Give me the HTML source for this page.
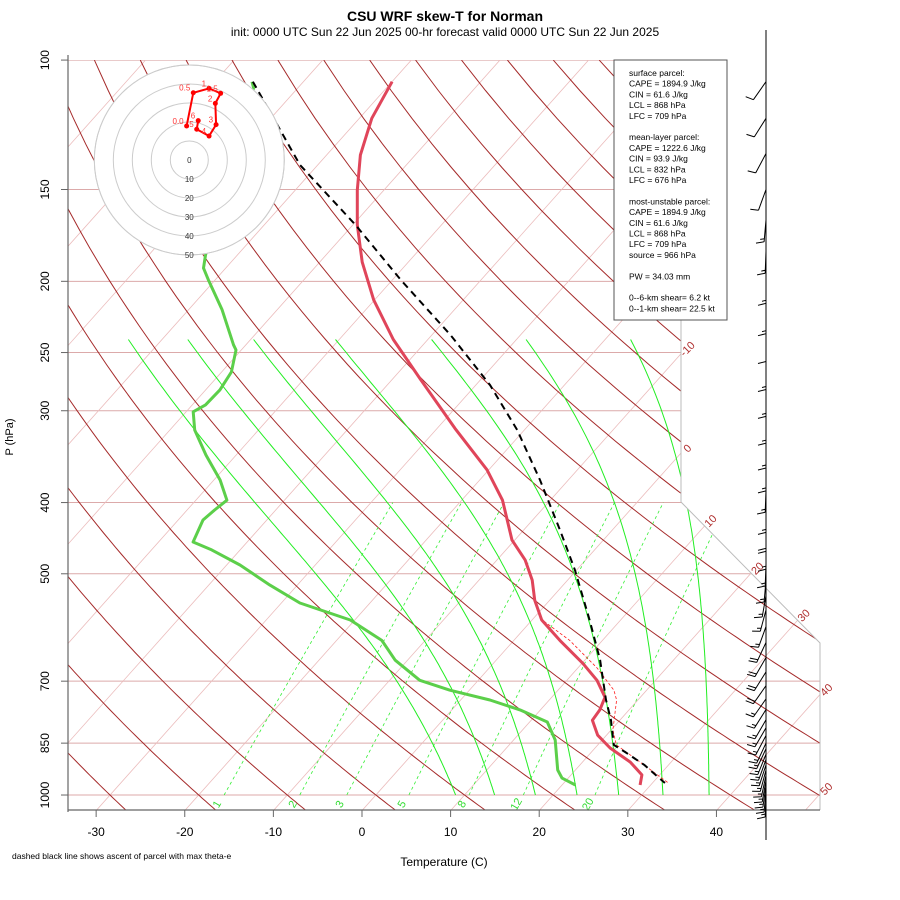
<!DOCTYPE html>
<html><head><meta charset="utf-8"><style>
html,body{margin:0;padding:0;background:#fff;}
svg{display:block;font-family:"Liberation Sans",sans-serif;}
</style></head><body>
<svg id="chart" width="900" height="900" viewBox="0 0 900 900" xmlns="http://www.w3.org/2000/svg">
<defs><clipPath id="plotclip"><polygon points="68,60 681,60 681,502 820,643 820,810 68,810"/></clipPath></defs>
<text x="445" y="21" text-anchor="middle" font-size="14" font-weight="bold">CSU WRF skew-T for Norman</text>
<text x="445" y="36" text-anchor="middle" font-size="12">init: 0000 UTC Sun 22 Jun 2025    00-hr forecast valid 0000 UTC Sun 22 Jun 2025</text>
<g id="bg" clip-path="url(#plotclip)"></g>
<g id="axes"></g>
<g id="prof"></g>
<g id="hodo"></g>
<g id="barbs"></g>
<g id="legend"></g>
<text x="444" y="866" text-anchor="middle" font-size="12">Temperature (C)</text>
<text transform="translate(13,437) rotate(-90)" text-anchor="middle" font-size="11">P (hPa)</text>
<text x="12" y="859" font-size="8.5">dashed black line shows ascent of parcel with max theta-e</text>
</svg>
<script>
// ---- data ----
const tempP = [107,120,134.6,150.3,167.6,188.3,212,240,272,317,361,397,450,479,510,543,578,616,662,698,736,766,791,829,863,902,939,969];
const tempT = [-70.0,-68.6,-66.2,-63.0,-59.5,-55.2,-50.1,-43.9,-36.8,-28.0,-20.2,-15.4,-10.3,-6.8,-4.0,-1.7,1.1,5.2,10.1,13.4,16.0,16.7,16.9,19.0,21.7,25.4,28.0,28.8];
const dewP = [107,109.1,184.2,191.9,199,218.7,244,248,265.7,281,294.6,301,318.7,344.7,372.7,397,409.4,422.5,452.6,464,486.4,518,548,578,616,655.4,698,720,742.6,766,795.6,841.8,924.7,948.3,969];
const dewT = [-85.8,-85.0,-73.6,-72.5,-70.8,-66.2,-61.4,-60.6,-58.9,-58.4,-58.5,-59.2,-57.2,-53.4,-49.3,-46.5,-46.9,-47.2,-46.1,-43.2,-38.5,-33.1,-27.9,-20.5,-14.9,-11.4,-6.6,-2.2,3.3,7.7,12.0,14.7,18.0,19.3,21.5];
const parcelP = [107,138.9,167.6,199,236.6,276.8,318.7,372.7,436,494,578,655,742.6,791,854.7,874,910.5,963];
const parcelT = [-85.7,-72.0,-59.7,-49.1,-37.9,-28.4,-20.8,-13.2,-5.9,-0.2,6.5,11.7,16.4,19.0,21.8,23.8,27.3,31.4];
const vparP = [574.6,616,672,720,742.6,815.8,854.7,902,963];
const vparT = [0.7,6.3,12.2,16.3,17.6,20.2,22.1,26.5,31.8];
const hodoU = [-1.4,2.1,10.4,16.5,13.7,14.1,10.4,3.9,4.7];
const hodoV = [17.9,35.4,37.7,35.1,29.8,18.6,12.6,16.2,20.7];
const hodoLab = ['0.0','0.5','1','1.5','2','3','4','5','6'];
const windP = [107,120,134,150,165,182,200,220,240,262,285,310,335,360,385,410,435,460,485,510,535,560,590,620,650,680,710,740,765,790,810,830,850,865,880,895,910,925,940,955,970,985,1000];
const windDir = [215,212,208,200,185,182,180,180,180,180,180,180,180,180,182,180,180,180,182,185,190,195,200,205,210,212,215,215,212,210,210,208,205,205,202,200,198,195,192,190,188,185,182];
const windSpd = [10,10,10,10,15,15,15,15,10,15,15,15,15,15,15,15,20,15,15,15,15,15,15,20,20,20,20,15,15,15,15,15,15,15,15,15,15,15,15,15,15,15,15];
const pLevels = [100,150,200,250,300,400,500,700,850,1000];
const tTicks = [-30,-20,-10,0,10,20,30,40];
const mixRatios = [1,2,3,5,8,12,20];
const moistStart = [9.0,13.4,18.0,22.7,27.4,32.4,37.6];
const moistK = [0.87,0.85,0.80,0.77,0.745,0.68,0.63];
const isoLabels = [-10,0,10,20,30,40,50];
const legendLines = ['surface parcel:','CAPE = 1894.9 J/kg','CIN = 61.6 J/kg','LCL = 868 hPa','LFC = 709 hPa','','mean-layer parcel:','CAPE = 1222.6 J/kg','CIN = 93.9 J/kg','LCL = 832 hPa','LFC = 676 hPa','','most-unstable parcel:','CAPE = 1894.9 J/kg','CIN = 61.6 J/kg','LCL = 868 hPa','LFC = 709 hPa','source = 966 hPa','','PW =  34.03 mm','','0--6-km shear= 6.2 kt','0--1-km shear= 22.5 kt'];

// ---- scales ----
const NS='http://www.w3.org/2000/svg';
function Yp(p){return 132.182-44.061*Math.log10(p);}
function py(p){return 795-16.68*Yp(p);}
function px(T,p){return 362+16.41*(0.54*T+0.90692*Yp(p)+0.8467);}
function mk(tag,attrs,parent){const e=document.createElementNS(NS,tag);for(const k in attrs)e.setAttribute(k,attrs[k]);parent.appendChild(e);return e;}
function pathFrom(ps,ts){return ps.map((p,i)=>(i?'L':'M')+px(ts[i],p).toFixed(1)+','+py(p).toFixed(1)).join('');}
const bg=document.getElementById('bg'),ax=document.getElementById('axes'),pr=document.getElementById('prof');

pLevels.forEach(p=>{const l=mk('line',{x1:68,x2:820,y1:py(p),y2:py(p),stroke:'#dcaaaa','stroke-width':1},bg);

});
for(let T=-130;T<=50;T+=10){const l=mk('line',{x1:px(T,1050),y1:py(1050),x2:px(T,100),y2:py(100),stroke:'#ebbcbc','stroke-width':0.8},bg);

}
for(let th=-40;th<=200;th+=10){let d='';for(let p=1050;p>=100;p-=10){const T=(th+273.15)*Math.pow(p/1000,0.2857)-273.15;d+=(p==1050?'M':'L')+px(T,p).toFixed(1)+','+py(p).toFixed(1);}
const l=mk('path',{d:d,fill:'none',stroke:'#a52a2a','stroke-width':1},bg);

}
function tdFromW(w,p){const e=w*p/(622+w);const a=Math.log(e/6.112);return 243.5*a/(17.67-a);}
mixRatios.forEach(w=>{let d='';for(let p=1000;p>=400;p-=20){d+=(p==1000?'M':'L')+px(tdFromW(w,p),p).toFixed(1)+','+py(p).toFixed(1);}
const l=mk('path',{d:d,fill:'none',stroke:'#33ee33','stroke-width':0.8,'stroke-dasharray':'3,3'},bg);


const t=mk('text',{x:0,y:0,transform:'translate('+(px(tdFromW(w,1000),1000)-4)+',806) rotate(-60)','font-size':11,fill:'#33dd33','text-anchor':'middle'},ax);t.textContent=w;

});
function es(T){return 6.112*Math.exp(17.67*T/(T+243.5));}
function moistLapse(Tk,p,k){const Lv=2.5e6,Rd=287,cp=1004,eps=0.622;const rs=k*eps*es(Tk-273.15)/(p-es(Tk-273.15));return (Rd*Tk+Lv*rs)/(p*(cp+Lv*Lv*rs*eps/(Rd*Tk*Tk)));}
moistStart.forEach((T0,i)=>{let Tk=T0+273.15,d='M'+px(T0,1000).toFixed(1)+','+py(1000).toFixed(1);for(let p=1000;p>240;p-=5){Tk-=moistLapse(Tk,p,moistK[i])*5;d+='L'+px(Tk-273.15,p-5).toFixed(1)+','+py(p-5).toFixed(1);}
const l=mk('path',{d:d,fill:'none',stroke:'#22ee22','stroke-width':1},bg);

});
const o=mk('polyline',{points:'681,60 681,502 820,643 820,810',fill:'none',stroke:'#bbb','stroke-width':1},ax);


const la=mk('line',{x1:68,y1:55,x2:68,y2:812,stroke:'#666','stroke-width':1.2},ax);


const ba=mk('line',{x1:68,y1:810,x2:820,y2:810,stroke:'#666','stroke-width':1.2},ax);


pLevels.forEach(p=>{mk('line',{x1:61,x2:68,y1:py(p),y2:py(p),stroke:'#666'},ax);const t=mk('text',{x:0,y:0,transform:'translate(49,'+py(p)+') rotate(-90)','text-anchor':'middle','font-size':12},ax);t.textContent=p;

});
tTicks.forEach(T=>{const x=px(T,1050);mk('line',{x1:x,x2:x,y1:810,y2:817,stroke:'#666'},ax);const t=mk('text',{x:x,y:836,'text-anchor':'middle','font-size':12},ax);t.textContent=T;

});
function rightX(y){if(y<=502)return 681;if(y<=643)return 681+(y-502)*139/141;return 820;}
isoLabels.forEach(T=>{let yy=810;for(let y=810;y>60;y-=0.5){const p=Math.pow(10,(132.182-(795-y)/16.68)/44.061);if(px(T,p)>=rightX(y)){yy=y;break;}}
const x=rightX(yy);const t=mk('text',{x:0,y:0,transform:'translate('+(x+9)+','+(yy-2)+') rotate(-45)','font-size':11,fill:'#b03030','text-anchor':'middle'},ax);t.textContent=T;

});

const dw=mk('path',{d:pathFrom(dewP,dewT),fill:'none',stroke:'#5ccf4a','stroke-width':3,'stroke-linejoin':'round'},pr);


const vp=mk('path',{d:pathFrom(vparP,vparT),fill:'none',stroke:'#ff2020','stroke-width':0.8,'stroke-dasharray':'3,2'},pr);


const tp=mk('path',{d:pathFrom(tempP,tempT),fill:'none',stroke:'#e0455a','stroke-width':3,'stroke-linejoin':'round'},pr);


const pc=mk('path',{d:pathFrom(parcelP,parcelT),fill:'none',stroke:'#000','stroke-width':2,'stroke-dasharray':'7,5'},pr);



const hg=document.getElementById('hodo');const hx=189.3,hy=160,hs=1.9;
const hc=mk('circle',{cx:hx,cy:hy,r:95,fill:'#fff',stroke:'#ccc'},hg);


for(let r=10;r<=50;r+=10){mk('circle',{cx:hx,cy:hy,r:r*hs,fill:'none',stroke:'#ccc'},hg);}
for(let r=0;r<=50;r+=10){const t=mk('text',{x:hx,y:hy+r*hs+3,'text-anchor':'middle','font-size':8,fill:'#333'},hg);t.textContent=r;

}
const hpts=hodoU.map((u,i)=>[hx+u*hs,hy-hodoV[i]*hs]);
const hl=mk('polyline',{points:hpts.map(q=>q.join(',')).join(' '),fill:'none',stroke:'#f00','stroke-width':2},hg);


hpts.forEach((q,i)=>{const c=mk('circle',{cx:q[0],cy:q[1],r:2.5,fill:'#f00'},hg);


const t=mk('text',{x:q[0]-3,y:q[1]-2,'text-anchor':'end','font-size':8,fill:'#f33'},hg);t.textContent=hodoLab[i];

});

const wb=document.getElementById('barbs');
const st=mk('line',{x1:766,y1:30,x2:766,y2:840,stroke:'#000','stroke-width':1},wb);


windP.forEach((p,i)=>{const a=windDir[i]*Math.PI/180,dx=Math.sin(a),dy=-Math.cos(a);const bx=766,by=py(p),L=22;const ex=bx+L*dx,ey=by+L*dy;
let d='M'+bx+','+by.toFixed(1)+'L'+ex.toFixed(1)+','+ey.toFixed(1);let s=windSpd[i],k=0;
while(s>=10){const sx=ex-k*3*dx,sy=ey-k*3*dy;d+='M'+sx.toFixed(1)+','+sy.toFixed(1)+'l'+(-dy*8+dx*2).toFixed(1)+','+(dx*8+dy*2).toFixed(1);s-=10;k++;}
if(s>=5){const sx=ex-k*3*dx,sy=ey-k*3*dy;d+='M'+sx.toFixed(1)+','+sy.toFixed(1)+'l'+(-dy*4+dx).toFixed(1)+','+(dx*4+dy).toFixed(1);}
const b=mk('path',{d:d,fill:'none',stroke:'#000','stroke-width':1},wb);

});

const lg=document.getElementById('legend');
const lb=mk('rect',{x:614,y:60,width:113,height:260,fill:'#fff',stroke:'#555'},lg);


legendLines.forEach((s,i)=>{if(!s)return;const t=mk('text',{x:629,y:76+10.7*i,'font-size':8.5},lg);t.textContent=s;

});
</script>
</body></html>
